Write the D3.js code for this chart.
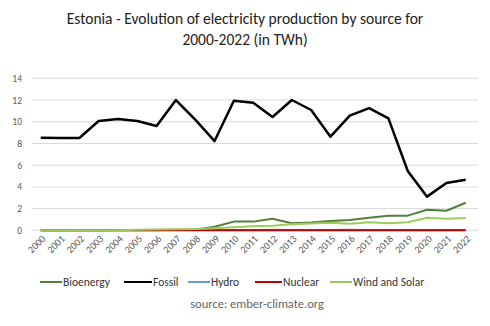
<!DOCTYPE html>
<html>
<head>
<meta charset="utf-8">
<script src="https://cdn.jsdelivr.net/npm/d3@7"></script>
<style>
  body { margin: 0; background: #fff; }
  svg { font-family: Carlito, "Open Sans", "Liberation Sans", sans-serif; }
</style>
</head>
<body>
<svg id="chart" width="490" height="326"></svg>
<script>
const years = d3.range(2000, 2023);
const yTicks = [0, 2, 4, 6, 8, 10, 12, 14];

const bioenergy = [0, 0, 0, 0, 0, 0, 0.02, 0.04, 0.06, 0.33, 0.8, 0.8, 1.07, 0.65, 0.73, 0.85, 0.95, 1.16, 1.35, 1.35, 1.9, 1.8, 2.54];
const fossil = [8.53, 8.5, 8.5, 10.07, 10.25, 10.07, 9.6, 12.0, 10.2, 8.22, 11.94, 11.75, 10.43, 12.0, 11.08, 8.62, 10.56, 11.26, 10.31, 5.46, 3.1, 4.36, 4.66];
const hydro = [0.01, 0.01, 0.01, 0.01, 0.02, 0.02, 0.01, 0.02, 0.03, 0.03, 0.03, 0.03, 0.04, 0.03, 0.03, 0.03, 0.04, 0.03, 0.02, 0.02, 0.02, 0.02, 0.02];
const nuclear = years.map(() => 0);
const windSolar = [0, 0, 0, 0, 0.01, 0.05, 0.08, 0.1, 0.13, 0.2, 0.28, 0.37, 0.43, 0.55, 0.62, 0.7, 0.6, 0.74, 0.64, 0.74, 1.15, 1.06, 1.13];

const series = [
    { name: "Bioenergy", values: bioenergy, color: "#527f3a" },
    { name: "Fossil", values: fossil, color: "#000000" },
    { name: "Hydro", values: hydro, color: "#6a9cc4" },
    { name: "Nuclear", values: nuclear, color: "#c00000" },
    { name: "Wind and Solar", values: windSolar, color: "#9ccc5c" }
];

const svg = d3.select("#chart");

// titulo
svg.append("text")
    .attr("x", 245).attr("y", 24)
    .attr("text-anchor", "middle")
    .attr("font-size", 15.5)
    .attr("fill", "#222")
    .text("Estonia - Evolution of electricity production  by source for");
svg.append("text")
    .attr("x", 245).attr("y", 45)
    .attr("text-anchor", "middle")
    .attr("font-size", 15.5)
    .attr("fill", "#222")
    .text("2000-2022 (in TWh)");

const x = d3.scalePoint()
    .domain(years)
    .range([40.7, 465.7]);

const y = d3.scaleLinear()
    .domain([0, 14])
    .range([230.3, 78.3]);

// lineas de la grilla
svg.append("g")
    .selectAll("line")
    .data(yTicks)
    .enter()
    .append("line")
    .attr("x1", 31.5)
    .attr("x2", 478)
    .attr("y1", d => y(d))
    .attr("y2", d => y(d))
    .attr("stroke", "#d9d9d9")
    .attr("stroke-width", 1);

// eje Y
const yAxis = svg.append("g")
    .attr("transform", "translate(22, 0)")
    .call(d3.axisLeft(y).tickValues(yTicks).tickSize(0).tickPadding(0));
yAxis.select(".domain").remove();
yAxis.selectAll("text")
    .attr("font-size", 9.5)
    .attr("fill", "#595959")
    .attr("font-family", "Carlito, 'Open Sans', sans-serif");

// eje X con etiquetas giradas
const xAxis = svg.append("g")
    .attr("transform", "translate(0, 230.3)")
    .call(d3.axisBottom(x).tickSize(0).tickPadding(0));
xAxis.select(".domain").remove();
xAxis.selectAll("text")
    .attr("font-size", 10)
    .attr("fill", "#595959")
    .attr("font-family", "Carlito, 'Open Sans', sans-serif")
    .attr("text-anchor", "end")
    .attr("dy", 0)
    .attr("transform", "translate(5, 9) rotate(-45)");

const line = d3.line()
    .x((d, i) => x(years[i]))
    .y(d => y(d));

svg.append("g")
    .selectAll("path")
    .data(series)
    .enter()
    .append("path")
    .attr("d", d => line(d.values))
    .attr("fill", "none")
    .attr("stroke", d => d.color)
    .attr("stroke-width", d => d.name === "Fossil" ? 2.5 : 2)
    .attr("stroke-linejoin", "round");

// leyenda
const legendX = [40, 124, 188, 255, 330];
const legendW = [22, 28, 22, 27, 22];
const legend = svg.append("g")
    .selectAll("g")
    .data(series)
    .enter()
    .append("g")
    .attr("transform", (d, i) => `translate(${legendX[i]}, 282)`);
legend.append("line")
    .attr("x1", 0)
    .attr("x2", (d, i) => legendW[i])
    .attr("stroke", d => d.color)
    .attr("stroke-width", 2);
legend.append("text")
    .attr("x", (d, i) => legendW[i] + 1)
    .attr("y", 4)
    .attr("font-size", 11.5)
    .attr("fill", "#333")
    .text(d => d.name);

svg.append("text")
    .attr("x", 257).attr("y", 308)
    .attr("text-anchor", "middle")
    .attr("font-size", 12.5)
    .attr("fill", "#666")
    .text("source: ember-climate.org");
</script>
</body>
</html>
